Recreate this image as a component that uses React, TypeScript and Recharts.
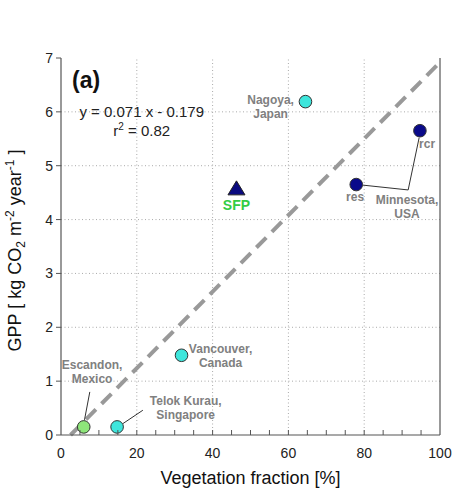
import React from "react";
import { ScatterChart, Scatter, XAxis, YAxis, ReferenceLine } from "recharts";

// ---- data ----
const cyanSites = [
  { name: "Telok Kurau", x: 14.8, y: 0.15 },
  { name: "Vancouver", x: 31.8, y: 1.48 },
  { name: "Nagoya", x: 64.5, y: 6.19 },
];
const greenSites = [{ name: "Escandon", x: 6.0, y: 0.15 }];
const navySites = [
  { name: "res", x: 77.9, y: 4.65 },
  { name: "rcr", x: 94.7, y: 5.65 },
];
const sfpSite = [{ name: "SFP", x: 46.3, y: 4.57 }];

const slope = 0.071;
const intercept = -0.179;

const xTicks = [0, 5, 10, 15, 20, 25, 30, 35, 40, 45, 50, 55, 60, 65, 70, 75, 80, 85, 90, 95, 100];
const yTicks = [0, 1, 2, 3, 4, 5, 6, 7];
const xGrid = [20, 40, 60, 80];
const yGrid = [1, 2, 3, 4, 5, 6];

// annotation texts (anchored in data coordinates)
const annotations = [
  { x: 2.9, y: 6.44, lines: ["(a)"], kind: "panel" },
  { x: 21.3, y: 5.91, lines: ["y = 0.071 x - 0.179"], kind: "eq" },
  { x: 21.3, y: 5.55, lines: ["r2"], kind: "r2" },
  { x: 55.3, y: 6.15, lines: ["Nagoya,", "Japan"], kind: "site" },
  { x: 96.6, y: 5.33, lines: ["rcr"], kind: "site" },
  { x: 77.6, y: 4.35, lines: ["res"], kind: "site" },
  { x: 91.3, y: 4.28, lines: ["Minnesota,", "USA"], kind: "site" },
  { x: 46.3, y: 4.17, lines: ["SFP"], kind: "sfp" },
  { x: 42.1, y: 1.52, lines: ["Vancouver,", "Canada"], kind: "site" },
  { x: 8.2, y: 1.22, lines: ["Escandon,", "Mexico"], kind: "site" },
  { x: 32.9, y: 0.556, lines: ["Telok Kurau,", "Singapore"], kind: "site" },
];

// leader lines
const leaders = [
  [{ x: 7.6, y: 0.8 }, { x: 6.2, y: 0.28 }],
  [{ x: 16.3, y: 0.21 }, { x: 21.6, y: 0.46 }],
  [{ x: 79.6, y: 4.64 }, { x: 91.6, y: 4.55 }],
  [{ x: 91.6, y: 4.55 }, { x: 94.5, y: 5.52 }],
];

const AXIS = "#555";
const FONT = "Arial, 'Liberation Sans', sans-serif";

const circleShape = (fill: string) => (p: any) => (
  <circle cx={p.cx} cy={p.cy} r={6.3} fill={fill} stroke="#333" strokeWidth={1} />
);

const triangleShape = (p: any) => {
  const { cx, cy } = p;
  return (
    <polygon
      points={`${cx},${cy - 8} ${cx - 8.5},${cy + 6} ${cx + 8.5},${cy + 6}`}
      fill="#0a0a80"
      stroke="#222"
      strokeWidth={1}
    />
  );
};

const annotationShape = (p: any) => {
  const { cx, cy, payload } = p;
  if (payload.kind === "panel") {
    return (
      <text x={cx} y={cy} fontSize={23} fontWeight="bold" fill="#111" fontFamily={FONT}>
        (a)
      </text>
    );
  }
  if (payload.kind === "eq") {
    return (
      <text x={cx} y={cy} fontSize={15} fill="#222" textAnchor="middle" fontFamily={FONT}>
        {payload.lines[0]}
      </text>
    );
  }
  if (payload.kind === "r2") {
    return (
      <text x={cx} y={cy} fontSize={15} fill="#222" textAnchor="middle" fontFamily={FONT}>
        r
        <tspan fontSize={10} dy={-6}>2</tspan>
        <tspan dy={6}> = 0.82</tspan>
      </text>
    );
  }
  if (payload.kind === "sfp") {
    return (
      <text x={cx} y={cy} fontSize={14} fontWeight="bold" fill="#33cc44" textAnchor="middle" fontFamily={FONT}>
        SFP
      </text>
    );
  }
  return (
    <text x={cx} y={cy} fontSize={12} fontWeight="bold" fill="#808080" textAnchor="middle" fontFamily={FONT}>
      {payload.lines.map((l: string, i: number) => (
        <tspan key={i} x={cx} dy={i === 0 ? 0 : 14}>
          {l}
        </tspan>
      ))}
    </text>
  );
};

const BottomTick = (p: any) => {
  const { x, y, payload } = p;
  const v = payload.value;
  return (
    <g>
      {v > 0 && v < 100 && <line x1={x} x2={x} y1={y} y2={y - 5} stroke={AXIS} strokeWidth={1} />}
      {v % 20 === 0 && (
        <text x={x} y={y + 23} textAnchor="middle" fontSize={14} fill="#222" fontFamily={FONT}>
          {v}
        </text>
      )}
    </g>
  );
};

const TopTick = (p: any) => {
  const { x, y, payload } = p;
  const v = payload.value;
  if (v <= 0 || v >= 100) return <g />;
  return <line x1={x} x2={x} y1={y} y2={y + 5} stroke={AXIS} strokeWidth={1} />;
};

const YLabel = (p: any) => {
  const vb = p.viewBox || { x: 0, y: 58, width: 61, height: 377 };
  const cx = 21;
  const cy = vb.y + vb.height / 2 + 4;
  return (
    <text
      x={cx}
      y={cy}
      transform={`rotate(-90, ${cx}, ${cy})`}
      textAnchor="middle"
      fontSize={18}
      fill="#111"
      fontFamily={FONT}
    >
      GPP [ kg CO
      <tspan fontSize={12} dy={4}>2</tspan>
      <tspan dy={-4}> m</tspan>
      <tspan fontSize={12} dy={-7}>-2</tspan>
      <tspan dy={7}> year</tspan>
      <tspan fontSize={12} dy={-7}>-1</tspan>
      <tspan dy={7}> ]</tspan>
    </text>
  );
};

const x0 = -intercept / slope;
const regression = [
  { x: x0, y: 0 },
  { x: 100, y: slope * 100 + intercept },
];

export default function App() {
  return (
    <div style={{ position: "absolute", left: 0, top: 0, background: "#fff" }}>
      <ScatterChart width={464} height={500} margin={{ top: 58, right: 24, bottom: 0, left: 0 }}>
        <XAxis
          type="number"
          dataKey="x"
          domain={[0, 100]}
          ticks={xTicks}
          interval={0}
          tickLine={false}
          tickSize={0}
          tickMargin={0}
          tick={<BottomTick />}
          height={65}
          stroke={AXIS}
          axisLine={{ stroke: AXIS, strokeWidth: 1.2 }}
          label={{
            value: "Vegetation fraction [%]",
            position: "insideBottom",
            offset: 16,
            fontSize: 18,
            fill: "#111",
            fontFamily: FONT,
          }}
        />
        <XAxis
          xAxisId="top"
          orientation="top"
          type="number"
          domain={[0, 100]}
          ticks={xTicks}
          interval={0}
          tickLine={false}
          tickSize={0}
          tickMargin={0}
          tick={<TopTick />}
          height={0}
          axisLine={{ stroke: AXIS, strokeWidth: 1.2 }}
        />
        <YAxis
          type="number"
          dataKey="y"
          domain={[0, 7]}
          ticks={yTicks}
          interval={0}
          width={61}
          tickSize={5}
          tickMargin={3}
          stroke={AXIS}
          axisLine={{ stroke: AXIS, strokeWidth: 1.2 }}
          tick={{ fontSize: 14, fill: "#222", fontFamily: FONT }}
          label={<YLabel />}
        />
        {xGrid.map((v) => (
          <ReferenceLine key={"gx" + v} x={v} stroke="#aaa" strokeDasharray="1 2.5" />
        ))}
        {yGrid.map((v) => (
          <ReferenceLine key={"gy" + v} y={v} stroke="#aaa" strokeDasharray="1 2.5" />
        ))}
        <ReferenceLine x={100} stroke={AXIS} strokeWidth={1.2} />
        <ReferenceLine
          segment={regression}
          stroke="#999"
          strokeWidth={4}
          strokeDasharray="14 8"
          ifOverflow="extendDomain"
        />
        {leaders.map((seg, i) => (
          <ReferenceLine key={"ld" + i} segment={seg} stroke="#333" strokeWidth={1} />
        ))}
        <Scatter data={cyanSites} shape={circleShape("#3ee6dc")} isAnimationActive={false} />
        <Scatter data={greenSites} shape={circleShape("#8ee67a")} isAnimationActive={false} />
        <Scatter data={navySites} shape={circleShape("#0a0a8a")} isAnimationActive={false} />
        <Scatter data={sfpSite} shape={triangleShape} isAnimationActive={false} />
        <Scatter data={annotations} shape={annotationShape} isAnimationActive={false} />
      </ScatterChart>
    </div>
  );
}
